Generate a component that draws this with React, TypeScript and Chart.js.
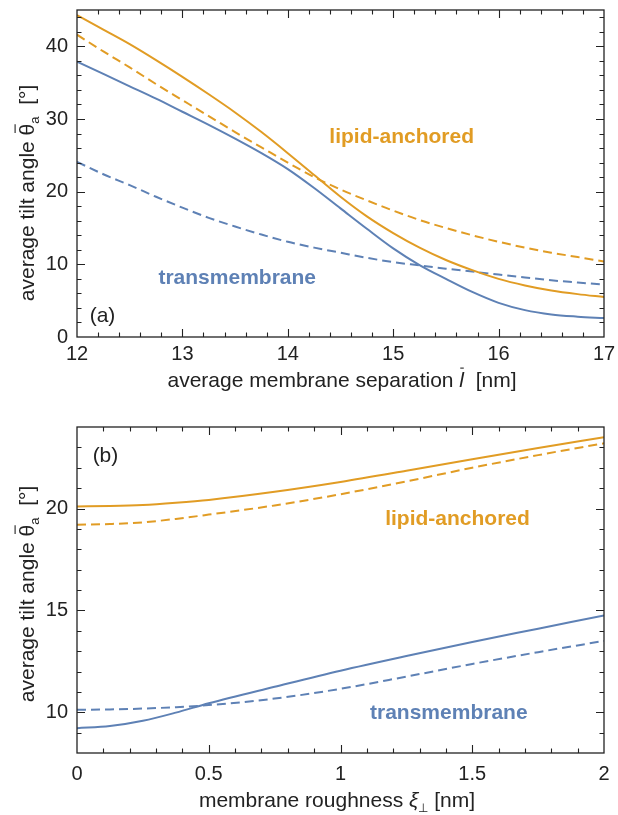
import React, { useEffect, useRef } from 'react';
import { Chart, registerables } from 'chart.js';
Chart.register(...registerables);

const ORANGE = '#E19C24';
const BLUE = '#5E81B5';
const INK = '#222222';
const FAMILY = '"Liberation Sans", Arial, Helvetica, sans-serif';

// ---- Panel (a): tilt angle vs average membrane separation ----
const separationA = [12, 12.25, 12.5, 12.75, 13, 13.25, 13.5, 13.75, 14, 14.25, 14.5, 14.75, 15, 15.25, 15.5, 15.75, 16, 16.25, 16.5, 16.75, 17];
const lipidSolidA = [44.3, 42.3, 40.3, 38.1, 35.8, 33.4, 30.9, 28.2, 25.3, 22.3, 19.3, 16.6, 14.3, 12.3, 10.6, 9.2, 8.0, 7.1, 6.4, 5.9, 5.5];
const lipidDashedA = [41.6, 39.3, 37.1, 34.8, 32.6, 30.4, 28.2, 26.1, 24.0, 22.0, 20.3, 18.8, 17.4, 16.1, 15.0, 14.0, 13.1, 12.3, 11.6, 11.0, 10.4];
const transSolidA = [37.9, 36.2, 34.5, 32.8, 31.0, 29.2, 27.3, 25.3, 23.1, 20.5, 17.7, 14.9, 12.2, 9.9, 8.0, 6.2, 4.7, 3.7, 3.1, 2.8, 2.6];
const transDashedA = [24.1, 22.4, 20.9, 19.3, 17.8, 16.4, 15.2, 14.1, 13.1, 12.3, 11.6, 10.9, 10.3, 9.85, 9.4, 9.0, 8.6, 8.2, 7.8, 7.5, 7.2];
const xTicksA = [12, 13, 14, 15, 16, 17];
const yTicksA = [0, 10, 20, 30, 40];

// ---- Panel (b): tilt angle vs membrane roughness ----
const roughnessB = [0, 0.125, 0.25, 0.375, 0.5, 0.75, 1, 1.25, 1.5, 1.75, 2];
const lipidSolidB = [20.1, 20.12, 20.17, 20.28, 20.42, 20.82, 21.3, 21.85, 22.42, 22.97, 23.5];
const lipidDashedB = [19.2, 19.24, 19.32, 19.49, 19.7, 20.15, 20.7, 21.33, 22.0, 22.62, 23.2];
const transSolidB = [9.22, 9.32, 9.58, 9.98, 10.44, 11.25, 12.04, 12.76, 13.45, 14.1, 14.75];
const transDashedB = [10.12, 10.14, 10.18, 10.25, 10.35, 10.67, 11.15, 11.75, 12.37, 12.95, 13.5];
const xTicksB = [0, 0.5, 1, 1.5, 2];
const xTickLabelsB = ['0', '0.5', '1', '1.5', '2'];
const yTicksB = [10, 15, 20];

type Seg = { t: string; size: number; style?: string; dy?: number; bar?: boolean };

function fontOf(s: Seg) {
  return `${s.style || ''} ${s.size}px ${FAMILY}`;
}

function drawRich(ctx: CanvasRenderingContext2D, segs: Seg[], cx: number, baseline: number) {
  const widths = segs.map((s) => {
    ctx.font = fontOf(s);
    return ctx.measureText(s.t).width;
  });
  const total = widths.reduce((a, b) => a + b, 0);
  let x = cx - total / 2;
  ctx.textAlign = 'left';
  ctx.textBaseline = 'alphabetic';
  segs.forEach((s, i) => {
    ctx.font = fontOf(s);
    ctx.fillText(s.t, x, baseline + (s.dy || 0));
    if (s.bar) {
      const w = widths[i];
      ctx.beginPath();
      ctx.lineWidth = 1.1;
      const yb = baseline - s.size * 0.9;
      ctx.moveTo(x + w * 0.2, yb);
      ctx.lineTo(x + w * 0.95, yb);
      ctx.stroke();
    }
    x += widths[i];
  });
}

type Label = { text: string; x: number; y: number; color: string; bold?: boolean; size: number };

type DecoParams = {
  xMin: number; xMax: number; xMinor: number; xMajor: number;
  yMin: number; yMax: number; yMinor: number; yMajor: number;
  labels: Label[];
  xTitle: Seg[]; xTitleDy: number; xTitleDx: number;
  yTitle: Seg[]; yTitleX: number; yTitleCY: number;
};

function isMultiple(v: number, step: number) {
  const r = v / step;
  return Math.abs(r - Math.round(r)) < 1e-6;
}

function makeDeco(p: DecoParams) {
  return {
    id: 'deco',
    afterDatasetsDraw(chart: any) {
      const { ctx, chartArea: a, scales } = chart;
      const sx = scales.x;
      const sy = scales.y;
      ctx.save();
      ctx.strokeStyle = INK;
      ctx.fillStyle = INK;
      ctx.lineWidth = 1.3;
      ctx.strokeRect(a.left, a.top, a.right - a.left, a.bottom - a.top);
      ctx.lineWidth = 1.1;
      const nx = Math.floor((p.xMax - p.xMin) / p.xMinor + 1e-6);
      for (let i = 1; i <= nx; i++) {
        const v = p.xMin + i * p.xMinor;
        if (Math.abs(v - p.xMax) < 1e-6) continue;
        const len = isMultiple(v, p.xMajor) ? 8 : 4.5;
        const px = Math.round(sx.getPixelForValue(v)) + 0.5;
        ctx.beginPath();
        ctx.moveTo(px, a.bottom);
        ctx.lineTo(px, a.bottom - len);
        ctx.moveTo(px, a.top);
        ctx.lineTo(px, a.top + len);
        ctx.stroke();
      }
      const ny = Math.floor((p.yMax - p.yMin) / p.yMinor + 1e-6);
      for (let i = 1; i <= ny; i++) {
        const v = p.yMin + i * p.yMinor;
        if (Math.abs(v - p.yMax) < 1e-6) continue;
        const len = isMultiple(v, p.yMajor) ? 8 : 4.5;
        const py = Math.round(sy.getPixelForValue(v)) + 0.5;
        ctx.beginPath();
        ctx.moveTo(a.left, py);
        ctx.lineTo(a.left + len, py);
        ctx.moveTo(a.right, py);
        ctx.lineTo(a.right - len, py);
        ctx.stroke();
      }
      // in-plot labels
      ctx.textAlign = 'center';
      ctx.textBaseline = 'alphabetic';
      p.labels.forEach((l) => {
        ctx.font = `${l.bold ? 'bold ' : ''}${l.size}px ${FAMILY}`;
        ctx.fillStyle = l.color;
        ctx.fillText(l.text, sx.getPixelForValue(l.x), sy.getPixelForValue(l.y));
      });
      // axis titles
      ctx.fillStyle = INK;
      ctx.strokeStyle = INK;
      drawRich(ctx, p.xTitle, (a.left + a.right) / 2 + p.xTitleDx, a.bottom + p.xTitleDy);
      ctx.save();
      ctx.translate(p.yTitleX, p.yTitleCY);
      ctx.rotate(-Math.PI / 2);
      drawRich(ctx, p.yTitle, 0, 0);
      ctx.restore();
      ctx.restore();
    },
  };
}

function line(label: string, xs: number[], ys: number[], color: string, dashed: boolean) {
  return {
    label,
    data: xs.map((x, i) => ({ x, y: ys[i] })),
    borderColor: color,
    backgroundColor: color,
    borderWidth: 2,
    borderDash: dashed ? [9, 5] : [],
    pointRadius: 0,
    fill: false,
    cubicInterpolationMode: 'monotone' as const,
  };
}

const yTitleSegs: Seg[] = [
  { t: 'average tilt angle ', size: 21 },
  { t: 'θ', size: 21, bar: true },
  { t: 'a', size: 13, dy: 5 },
  { t: '  [°]', size: 21 },
];

function baseOptions(
  xMin: number, xMax: number, yMin: number, yMax: number,
  xTicks: number[], yTicks: number[], xLabels: string[] | null,
  padTop: number, xHeight: number, xPad: number
): any {
  return {
    responsive: false,
    animation: false,
    events: [],
    layout: { padding: { left: 0, right: 14, top: padTop, bottom: 0 } },
    plugins: { legend: { display: false }, tooltip: { enabled: false } },
    scales: {
      x: {
        type: 'linear',
        min: xMin,
        max: xMax,
        grid: { display: false, drawTicks: false },
        border: { display: false },
        afterBuildTicks: (s: any) => {
          s.ticks = xTicks.map((v) => ({ value: v }));
        },
        afterFit: (s: any) => {
          s.height = xHeight;
          s.paddingLeft = 0;
          s.paddingRight = 0;
        },
        ticks: {
          font: { family: FAMILY, size: 20 },
          color: INK,
          padding: xPad,
          maxRotation: 0,
          autoSkip: false,
          callback: (v: any) => {
            const i = xTicks.indexOf(Number(v));
            return xLabels && i >= 0 ? xLabels[i] : String(v);
          },
        },
      },
      y: {
        type: 'linear',
        min: yMin,
        max: yMax,
        grid: { display: false, drawTicks: false },
        border: { display: false },
        afterBuildTicks: (s: any) => {
          s.ticks = yTicks.map((v) => ({ value: v }));
        },
        afterFit: (s: any) => {
          s.width = 77;
          s.paddingTop = 0;
          s.paddingBottom = 0;
        },
        ticks: {
          font: { family: FAMILY, size: 20 },
          color: INK,
          padding: 9,
          autoSkip: false,
          callback: (v: any) => String(v),
        },
      },
    },
  };
}

export default function App() {
  const refA = useRef<HTMLCanvasElement | null>(null);
  const refB = useRef<HTMLCanvasElement | null>(null);

  useEffect(() => {
    if (!refA.current || !refB.current) return;
    const chartA = new Chart(refA.current, {
      type: 'line',
      data: {
        datasets: [
          line('lipid-anchored', separationA, lipidSolidA, ORANGE, false),
          line('lipid-anchored (dashed)', separationA, lipidDashedA, ORANGE, true),
          line('transmembrane', separationA, transSolidA, BLUE, false),
          line('transmembrane (dashed)', separationA, transDashedA, BLUE, true),
        ],
      },
      options: baseOptions(12, 17, 0, 45, xTicksA, yTicksA, null, 10, 63, 5),
      plugins: [
        makeDeco({
          xMin: 12, xMax: 17, xMinor: 0.2, xMajor: 1,
          yMin: 0, yMax: 45, yMinor: 2, yMajor: 10,
          labels: [
            { text: 'lipid-anchored', x: 15.08, y: 26.75, color: ORANGE, bold: true, size: 21 },
            { text: 'transmembrane', x: 13.52, y: 7.3, color: BLUE, bold: true, size: 21 },
            { text: '(a)', x: 12.242, y: 2.06, color: INK, size: 21 },
          ],
          xTitle: [
            { t: 'average membrane separation ', size: 21 },
            { t: 'l', size: 21, style: 'italic', bar: true },
            { t: '  [nm]', size: 21 },
          ],
          xTitleDy: 50,
          xTitleDx: 1.5,
          yTitle: yTitleSegs,
          yTitleX: 34,
          yTitleCY: 193,
        }) as any,
      ],
    } as any);

    const chartB = new Chart(refB.current, {
      type: 'line',
      data: {
        datasets: [
          line('lipid-anchored', roughnessB, lipidSolidB, ORANGE, false),
          line('lipid-anchored (dashed)', roughnessB, lipidDashedB, ORANGE, true),
          line('transmembrane', roughnessB, transSolidB, BLUE, false),
          line('transmembrane (dashed)', roughnessB, transDashedB, BLUE, true),
        ],
      },
      options: baseOptions(0, 2, 8, 24, xTicksB, yTicksB, xTickLabelsB, 27, 62, 9),
      plugins: [
        makeDeco({
          xMin: 0, xMax: 2, xMinor: 0.1, xMajor: 0.5,
          yMin: 8, yMax: 24, yMinor: 1, yMajor: 5,
          labels: [
            { text: 'lipid-anchored', x: 1.444, y: 19.18, color: ORANGE, bold: true, size: 21 },
            { text: 'transmembrane', x: 1.411, y: 9.68, color: BLUE, bold: true, size: 21 },
            { text: '(b)', x: 0.108, y: 22.27, color: INK, size: 21 },
          ],
          xTitle: [
            { t: 'membrane roughness ', size: 21 },
            { t: 'ξ', size: 21, style: 'italic' },
            { t: '⊥', size: 12, dy: 5 },
            { t: ' [nm]', size: 21 },
          ],
          xTitleDy: 54,
          xTitleDx: -3.5,
          yTitle: yTitleSegs,
          yTitleX: 34,
          yTitleCY: 194,
        }) as any,
      ],
    } as any);

    return () => {
      chartA.destroy();
      chartB.destroy();
    };
  }, []);

  return (
    <div style={{ position: 'absolute', left: 0, top: 0, width: 618, height: 815, background: '#ffffff' }}>
      <canvas ref={refA} width={618} height={400} style={{ display: 'block', width: 618, height: 400 }} />
      <canvas ref={refB} width={618} height={415} style={{ display: 'block', width: 618, height: 415 }} />
    </div>
  );
}
